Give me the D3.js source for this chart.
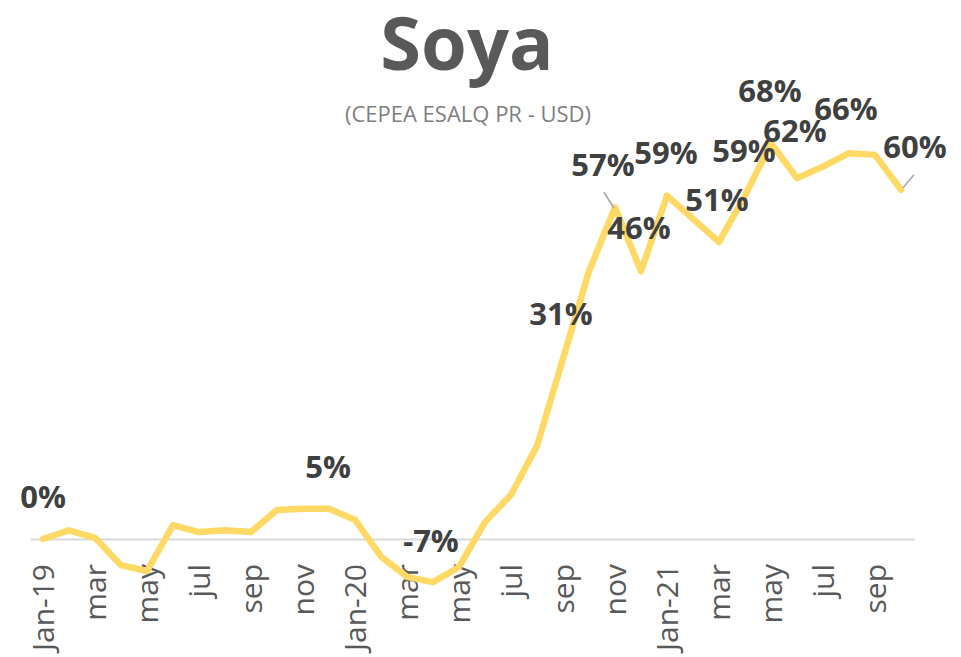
<!DOCTYPE html>
<html>
<head>
<meta charset="utf-8">
<script src="https://cdn.jsdelivr.net/npm/d3@7"></script>
<style>
  body { margin: 0; background: #fff; }
  svg { font-family: "Open Sans", sans-serif; }
</style>
</head>
<body>
<div id="chart"></div>
<script>
/* CONSTANTS AND GLOBALS */
const width = 961;
const height = 657;

// months Jan-19 .. Oct-21
const months = ["2019-01","2019-02","2019-03","2019-04","2019-05","2019-06","2019-07","2019-08","2019-09","2019-10","2019-11","2019-12",
                "2020-01","2020-02","2020-03","2020-04","2020-05","2020-06","2020-07","2020-08","2020-09","2020-10","2020-11","2020-12",
                "2021-01","2021-02","2021-03","2021-04","2021-05","2021-06","2021-07","2021-08","2021-09","2021-10"];

// % change vs Jan-19
const values = [0, 1.5, 0.2, -4.5, -5.5, 2.4, 1.2, 1.5, 1.2, 5, 5.2, 5.2,
                3.3, -3, -6.5, -7.4, -4.8, 2.9, 7.6, 16, 31, 46, 57, 46,
                59, 55, 51, 59, 68, 62, 64, 66.3, 66, 60];

// which points carry a data label
const labelled = ["2019-01","2019-12","2020-04","2020-09","2020-11","2020-12","2021-01","2021-03","2021-04","2021-05","2021-06","2021-08","2021-10"];

const monthNames = ["Jan","feb","mar","apr","may","jun","jul","aug","sep","oct","nov","dec"];

const data = months.map((m, i) => ({ month: m, value: values[i] }));

const svg = d3.select("#chart")
    .append("svg")
    .attr("width", width)
    .attr("height", height);

/* SCALES */
const xScale = d3.scaleBand()
    .domain(months)
    .range([30, 914]);

const cx = d => xScale(d) + xScale.bandwidth() / 2;

const yScale = d3.scaleLinear()
    .domain([-10, 70])
    .range([597.2, 131.6]);

/* TITLE */
svg.append("text")
    .attr("x", 467)
    .attr("y", 70)
    .attr("text-anchor", "middle")
    .style("font-size", "74px")
    .style("font-weight", "bold")
    .attr("fill", "#595959")
    .text("Soya");

svg.append("text")
    .attr("x", 468)
    .attr("y", 122)
    .attr("text-anchor", "middle")
    .style("font-size", "22px")
    .attr("fill", "#7f7f7f")
    .text("(CEPEA ESALQ PR - USD)");

/* AXIS */
const xAxis = d3.axisBottom(xScale)
    .tickValues(months.filter((m, i) => i % 2 === 0))
    .tickSize(0)
    .tickSizeOuter(0)
    .tickFormat(m => {
        const mo = +m.slice(5) - 1;
        return mo === 0 ? "Jan-" + m.slice(2, 4) : monthNames[mo];
    });

const gx = svg.append("g")
    .attr("transform", `translate(0,${yScale(0)})`)
    .call(xAxis);

gx.select(".domain")
    .attr("stroke", "#d9d9d9")
    .attr("stroke-width", 2);

gx.selectAll("text")
    .attr("transform", "rotate(-90)")
    .attr("text-anchor", "end")
    .attr("x", -25)
    .attr("y", 0)
    .attr("dy", "0.36em")
    .style("font-size", "30px")
    .style("font-family", "Open Sans, sans-serif")
    .attr("fill", "#595959");

/* LINE */
const line = d3.line()
    .x(d => cx(d.month))
    .y(d => yScale(d.value));

svg.append("path")
    .datum(data)
    .attr("d", line)
    .attr("fill", "none")
    .attr("stroke", "#FFD966")
    .attr("stroke-width", 6.5)
    .attr("stroke-linejoin", "round")
    .attr("stroke-linecap", "round");

/* DATA LABELS */
// nudges so labels sit like the original (dx, dy from the point)
const nudges = {
    "2019-01": [0, -31], "2019-12": [-1, -31], "2020-04": [-2, -30], "2020-09": [-2, -34],
    "2020-11": [-12, -31], "2020-12": [-2, -32], "2021-01": [-1, -32], "2021-03": [-2, -31],
    "2021-04": [-1, -34], "2021-05": [-1, -41], "2021-06": [-2, -36], "2021-08": [-3, -33],
    "2021-10": [14, -32]
};

const labelData = data.filter(d => labelled.includes(d.month));

// leader lines for the labels that were pulled away from their point
svg.selectAll(".leader")
    .data(labelData.filter(d => d.month === "2020-11" || d.month === "2021-10"))
    .join("line")
    .attr("class", "leader")
    .attr("x1", d => cx(d.month) + (d.month === "2020-11" ? -11 : 2))
    .attr("y1", d => yScale(d.value) + (d.month === "2020-11" ? -15 : -2))
    .attr("x2", d => cx(d.month) + (d.month === "2020-11" ? -1 : 13))
    .attr("y2", d => yScale(d.value) + (d.month === "2020-11" ? 1 : -15))
    .attr("stroke", "#a6a6a6")
    .attr("stroke-width", 1.5);

svg.selectAll(".labels")
    .data(labelData)
    .join("text")
    .attr("class", "labels")
    .attr("x", d => cx(d.month) + nudges[d.month][0])
    .attr("y", d => yScale(d.value) + nudges[d.month][1])
    .attr("text-anchor", "middle")
    .style("font-size", "31px")
    .style("font-weight", "bold")
    .attr("fill", "#404040")
    .text(d => Math.round(d.value) + "%");
</script>
</body>
</html>
